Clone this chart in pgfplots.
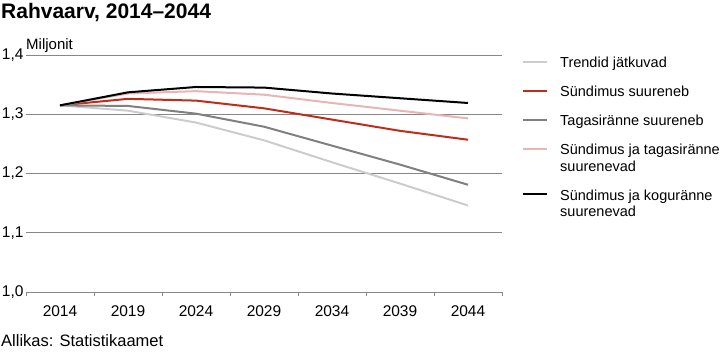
\documentclass[border=0pt]{standalone}
\usepackage{fontspec}
\setmainfont{Liberation Sans}
\usepackage{pgfplots}
\pgfplotsset{compat=1.18}
\definecolor{cLight}{RGB}{204,204,204}
\definecolor{cRed}{RGB}{190,45,25}
\definecolor{cGray}{RGB}{128,128,128}
\definecolor{cPink}{RGB}{232,180,180}
\definecolor{cGrid}{RGB}{135,135,135}
\newcommand{\lstrut}{\rule[-4pt]{0pt}{12pt}}
\pgfplotsset{
  oneimg/.style={legend image code/.code={\draw[##1] (0pt,1pt) -- (24pt,1pt);}},
  twoimg/.style={legend image code/.code={\draw[##1] (0pt,9.5pt) -- (24pt,9.5pt);}},
}
\begin{document}
\begin{tikzpicture}[x=1pt,y=1pt]
\path[use as bounding box] (0,0) rectangle (725,353);
\node[anchor=base west,font=\fontsize{21}{24}\selectfont\bfseries,inner sep=0pt] at (1,334.5) {Rahvaarv, 2014–2044};
\node[anchor=base west,font=\fontsize{15}{17}\selectfont,inner sep=0pt] at (26,303) {Miljonit};
\node[anchor=base west,font=\fontsize{16.5}{18}\selectfont,inner sep=0pt] at (1,6) {Allikas: Statistikaamet};
\begin{axis}[
  at={(26pt,61pt)}, anchor=south west,
  scale only axis, width=476pt, height=237pt,
  xmin=-0.5, xmax=6.5, ymin=1.0, ymax=1.4,
  xtick={0,...,6},
  xticklabels={2014,2019,2024,2029,2034,2039,2044},
  minor xtick={-0.5,0.5,...,6.5},
  ytick={1.0,1.1,1.2,1.3,1.4},
  axis line style={draw=none},
  ymajorgrids,
  grid style={cGrid, line width=0.9pt},
  major tick length=0pt,
  minor tick length=4pt,
  minor tick style={cGrid, line width=0.9pt},
  tick align=outside,
  xtick pos=lower, ytick pos=left,
  ytick style={draw=none},
  /pgf/number format/assume math mode=true,
  /pgf/number format/fixed,
  /pgf/number format/fixed zerofill,
  /pgf/number format/precision=1,
  /pgf/number format/use comma,
  ticklabel style={font=\fontsize{15.5}{17}\selectfont},
  xticklabel style={yshift=-10pt},
  yticklabel style={xshift=1pt},
  legend style={at={(1.042,0.9916)}, anchor=north west, draw=none, inner sep=0pt,
    font=\fontsize{14.5}{16.5}\selectfont, row sep=17pt,
    nodes={align=left, inner sep=0pt}, column sep=12pt},
  legend cell align=left,
  oneimg,
  every axis plot/.append style={line width=2pt},
]
\addplot[cLight] coordinates {(0,1.315) (1,1.306) (2,1.286) (3,1.256) (4,1.219) (5,1.183) (6,1.146)};
\addplot[cRed] coordinates {(0,1.315) (1,1.326) (2,1.323) (3,1.310) (4,1.291) (5,1.272) (6,1.257)};
\addplot[cGray] coordinates {(0,1.315) (1,1.314) (2,1.301) (3,1.279) (4,1.247) (5,1.215) (6,1.181)};
\addplot[cPink, twoimg] coordinates {(0,1.315) (1,1.335) (2,1.339) (3,1.333) (4,1.319) (5,1.306) (6,1.293)};
\addplot[black, twoimg] coordinates {(0,1.315) (1,1.337) (2,1.346) (3,1.345) (4,1.335) (5,1.327) (6,1.319)};
\legend{\lstrut Trendid jätkuvad, \lstrut Sündimus suureneb, \lstrut Tagasiränne suureneb, {\lstrut Sündimus ja tagasiränne\\\lstrut suurenevad}, {\lstrut Sündimus ja koguränne\\\lstrut suurenevad}}
\end{axis}
\end{tikzpicture}
\end{document}
